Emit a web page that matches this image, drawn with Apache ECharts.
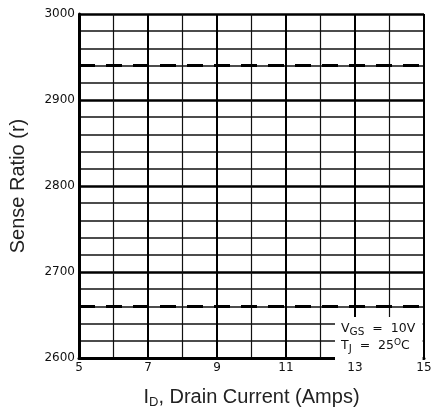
<!DOCTYPE html>
<html><head><meta charset="utf-8">
<script src="https://cdn.jsdelivr.net/npm/echarts@6/dist/echarts.min.js"></script>
<style>html,body{margin:0;padding:0;background:#fff}#c{width:437px;height:414px}</style>
</head><body><div id="c"></div>
<script>
// Data
const xRange = [5, 15];
const yRange = [2600, 3000];
const upperLimitX = [5, 15];
const upperLimitY = [2940, 2940];
const lowerLimitX = [5, 15];
const lowerLimitY = [2660, 2660];
const xTickLabels = ['5', '7', '9', '11', '13', '15'];
const yTickLabels = ['2600', '2700', '2800', '2900', '3000'];

const chart = echarts.init(document.getElementById('c'));
const font = 'Liberation Sans, Arial, sans-serif';
const tickFont = 'DejaVu Sans, sans-serif';
chart.setOption({
  animation: false,
  backgroundColor: '#fff',
  grid: { left: 78, right: 13, top: 14, bottom: 52, show: false },
  xAxis: {
    type: 'value', min: xRange[0], max: xRange[1], interval: 2,
    name: '{a|I}{s|D}{a|, Drain Current (Amps)}',
    nameLocation: 'middle', nameGap: 27,
    nameTextStyle: { rich: { a: { fontFamily: font, fontSize: 20, color: '#222' }, s: { fontFamily: font, fontSize: 13, color: '#222', verticalAlign: 'bottom', padding: [11, 0, 0, 0] } } },
    axisLine: { show: true, onZero: false, lineStyle: { color: '#000', width: 3 } },
    axisTick: { show: false },
    axisLabel: { fontFamily: tickFont, fontSize: 12, color: '#111', margin: 4,
      formatter: v => xTickLabels.includes(String(v)) ? String(v) : '' },
    splitLine: { show: true, lineStyle: { color: '#000', width: 2 } },
    minorTick: { show: false, splitNumber: 2 },
    minorSplitLine: { show: true, lineStyle: { color: '#111', width: 1.2 } }
  },
  yAxis: {
    type: 'value', min: yRange[0], max: yRange[1], interval: 100,
    name: 'Sense Ratio (r)', nameLocation: 'middle', nameGap: 51,
    nameTextStyle: { fontFamily: font, fontSize: 20, color: '#222' },
    axisLine: { show: true, onZero: false, lineStyle: { color: '#000', width: 3 } },
    axisTick: { show: false },
    axisLabel: { fontFamily: tickFont, fontSize: 12, color: '#111', margin: 4,
      formatter: v => yTickLabels.includes(String(v)) ? String(v) : '' },
    splitLine: { show: true, lineStyle: { color: '#000', width: 2.6 } },
    minorTick: { show: false, splitNumber: 5 },
    minorSplitLine: { show: true, lineStyle: { color: '#111', width: 1.6 } }
  },
  series: [
    { type: 'line', symbol: 'none', data: upperLimitX.map((x, i) => [x, upperLimitY[i]]),
      lineStyle: { color: '#000', width: 3, type: [16, 11] }, z: 3 },
    { type: 'line', symbol: 'none', data: lowerLimitX.map((x, i) => [x, lowerLimitY[i]]),
      lineStyle: { color: '#000', width: 3, type: [16, 11] }, z: 3 }
  ],
  graphic: [
    { type: 'rect', shape: { x: 335, y: 317, width: 87.6, height: 43.5 }, style: { fill: '#fff' }, z: 100 },
    { type: 'text', left: 341, top: 322, z: 101,
      style: { text: '{a|V}{s|GS}{a|  =  10V}', rich: { a: { fontFamily: tickFont, fontSize: 12.5, fill: '#111' }, s: { fontFamily: tickFont, fontSize: 10.5, fill: '#111', padding: [7, 0, 0, 0] } } } },
    { type: 'text', left: 341, top: 338, z: 101,
      style: { text: '{a|T}{s|J}{a|  =  25}{p|O}{a|C}', rich: { a: { fontFamily: tickFont, fontSize: 12.5, fill: '#111' }, s: { fontFamily: tickFont, fontSize: 10.5, fill: '#111', padding: [7, 0, 0, 0] }, p: { fontFamily: tickFont, fontSize: 9, fill: '#111', padding: [0, 0, 6, 0] } } } }
  ]
});
</script></body></html>
